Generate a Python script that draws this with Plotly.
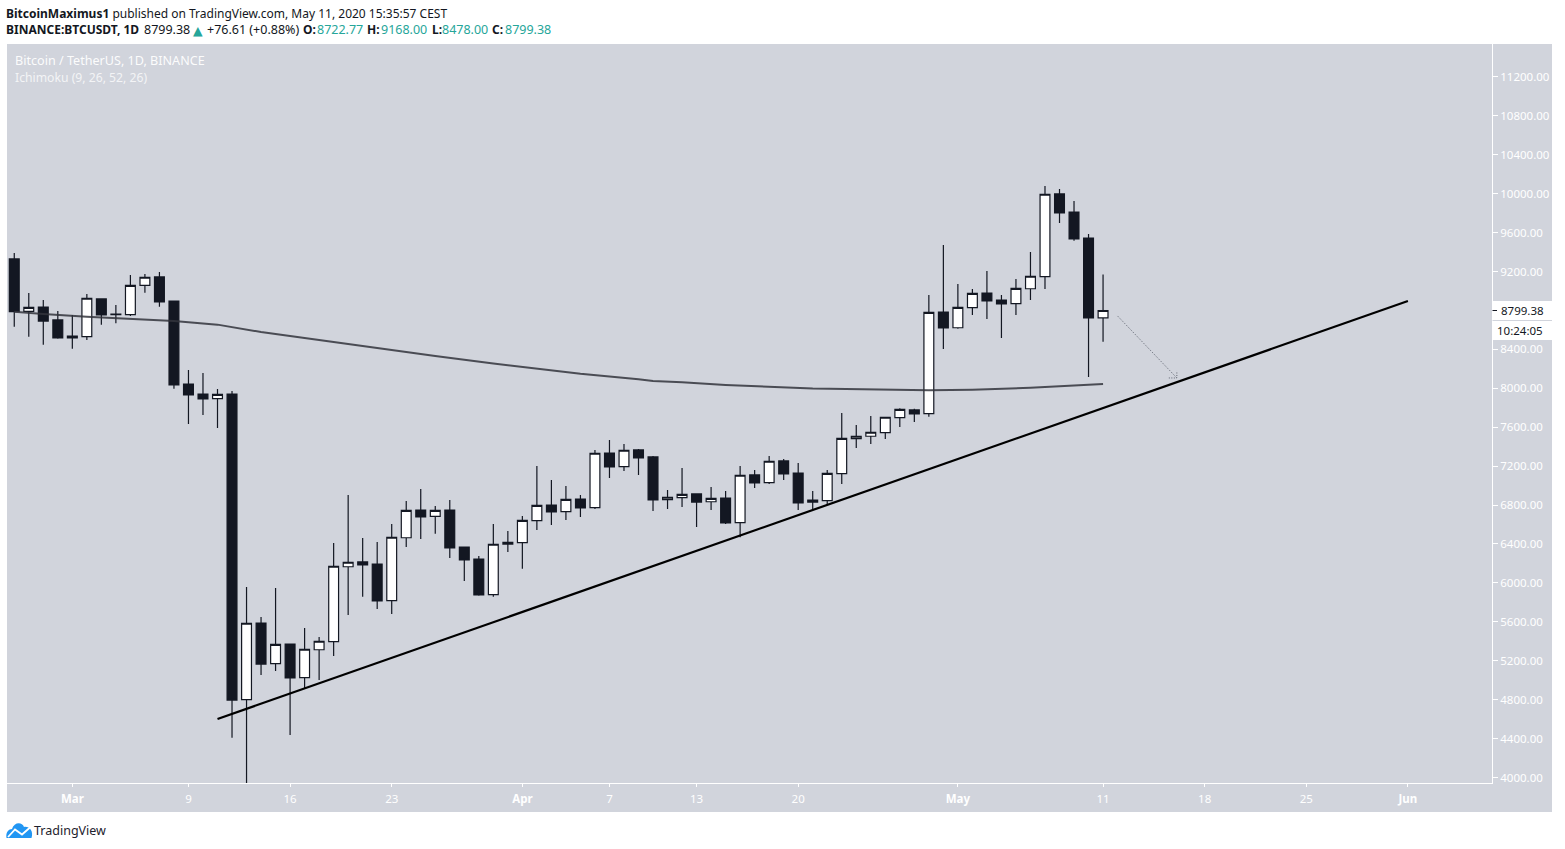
import pandas as pd
import plotly.graph_objects as go

# daily candles, first one is Feb 26 2020
open_prices = [9329, 8791, 8835, 8702, 8537, 8530, 8918, 8763, 8756, 9058, 9144, 8897, 8044, 7941, 7893, 7941,
               4800, 5588, 5170, 5372, 5026, 5313, 5396, 6166, 6215, 6194, 5817, 6464, 6749, 6684, 6749, 6369,
               6245, 5879, 6397, 6413, 6639, 6800, 6732, 6862, 6773, 7335, 7194, 7366, 7294, 6855, 6876, 6914,
               6834, 6872, 6619, 7109, 7030, 7253, 7129, 6852, 6845, 7122, 7482, 7507, 7544, 7698, 7777, 7739,
               8784, 8622, 8828, 8979, 8907, 8869, 9023, 9147, 9997, 9811, 9544, 8722.77]
high_prices = [9390, 8979, 8907, 8794, 8753, 8969, 8925, 8856, 9164, 9175, 9195, 8900, 8188, 8157, 7993, 7972,
               5958, 5650, 5947, 5372, 5536, 5444, 6410, 6903, 6461, 6420, 6605, 6842, 6965, 6790, 6852, 6369,
               6276, 6605, 6533, 6687, 7201, 7057, 6996, 6903, 7366, 7468, 7427, 7376, 7304, 6955, 7181, 6920,
               6985, 6944, 7201, 7160, 7304, 7273, 7232, 6944, 7160, 7746, 7623, 7715, 7702, 7795, 7790, 8959,
               9473, 9072, 9020, 9205, 8959, 9123, 9400, 10079, 10048, 9925, 9586, 9168]
low_prices = [8633, 8530, 8448, 8510, 8407, 8496, 8653, 8668, 8743, 8982, 8838, 7996, 7633, 7725, 7592, 4409,
              3782, 5053, 5095, 4437, 4917, 5002, 5249, 5670, 5858, 5732, 5680, 6369, 6451, 6506, 6256, 6019,
              5868, 5858, 6317, 6146, 6544, 6595, 6646, 6677, 6759, 7078, 7150, 7109, 6739, 6759, 6780, 6574,
              6749, 6605, 6469, 6975, 7016, 7057, 6749, 6749, 6800, 7016, 7386, 7427, 7479, 7602, 7653, 7708,
              8404, 8612, 8753, 8712, 8517, 8753, 8907, 9020, 9699, 9517, 8116, 8478]
close_prices = [8787, 8832, 8691, 8517, 8517, 8925, 8753, 8756, 9058, 9141, 8887, 8034, 7931, 7890, 7938, 4796,
                5585, 5166, 5369, 5023, 5318, 5400, 6171, 6212, 6184, 5814, 6469, 6746, 6677, 6746, 6359, 6235,
                5876, 6397, 6417, 6643, 6797, 6729, 6859, 6770, 7332, 7191, 7363, 7284, 6852, 6880, 6910, 6831,
                6869, 6616, 7106, 7027, 7250, 7119, 6821, 6831, 7126, 7486, 7507, 7548, 7702, 7784, 7736, 8781,
                8620, 8832, 8976, 8897, 8866, 9027, 9151, 9994, 9801, 9534, 8722, 8799.38]

# long moving average, read at a few dates
ma_dates = ['2020-02-26', '2020-02-28', '2020-03-02', '2020-03-06', '2020-03-08', '2020-03-11', '2020-03-14',
            '2020-03-17', '2020-03-20', '2020-03-22', '2020-03-26', '2020-03-30', '2020-04-02', '2020-04-05',
            '2020-04-09', '2020-04-10', '2020-04-12', '2020-04-15', '2020-04-21', '2020-04-25', '2020-04-29',
            '2020-05-02', '2020-05-06', '2020-05-11']
ma_values = [8787, 8763, 8736, 8709, 8691, 8654, 8578, 8517, 8455, 8407, 8332, 8255, 8201, 8149, 8093, 8075,
             8061, 8034, 7998, 7985, 7979, 7985, 8006, 8044]

trend_dates = ['2020-03-11', '2020-06-01']
trend_values = [4601, 8897]

arrow_dates = ['2020-05-12', '2020-05-16 02:00']
arrow_values = [8743, 8106]
arrow_head_dates = ['2020-05-15 12:45', '2020-05-16 02:00', '2020-05-16 02:00']
arrow_head_values = [8106, 8106, 8178]

y_ticks = list(range(4000, 11600, 400))
x_tick_dates = ['2020-03-01', '2020-03-09', '2020-03-16', '2020-03-23', '2020-04-01', '2020-04-07', '2020-04-13',
                '2020-04-20', '2020-05-01', '2020-05-11', '2020-05-18', '2020-05-25', '2020-06-01']
x_tick_labels = ['<b>Mar</b>', '9', '16', '23', '<b>Apr</b>', '7', '13', '20', '<b>May</b>', '11', '18', '25',
                 '<b>Jun</b>']

DARK = '#131722'
PANEL = '#d1d4dc'
TEAL = '#26a69a'
FONT = 'Noto Sans'

# plot box in page pixels
W, H = 1565, 849
L, R, T, B = 7, 1492, 44, 783


def px(x):
    return (x - L) / (R - L)


def py(y):
    return (B - y) / (B - T)


dates = pd.date_range('2020-02-26', periods=len(close_prices))

fig = go.Figure()

fig.add_trace(go.Candlestick(
    x=dates, open=open_prices, high=high_prices, low=low_prices, close=close_prices,
    increasing=dict(line=dict(color=DARK, width=1.2), fillcolor='#ffffff'),
    decreasing=dict(line=dict(color=DARK, width=1.2), fillcolor=DARK),
    whiskerwidth=0,
))
fig.add_trace(go.Scatter(x=ma_dates, y=ma_values, mode='lines',
                         line=dict(color='rgba(50,52,60,0.85)', width=2)))
fig.add_trace(go.Scatter(x=trend_dates, y=trend_values, mode='lines', line=dict(color='#000000', width=2.2)))
fig.add_trace(go.Scatter(x=arrow_dates, y=arrow_values, mode='lines',
                         line=dict(color='#5f6470', width=1, dash='1px,1.5px')))
fig.add_trace(go.Scatter(x=arrow_head_dates, y=arrow_head_values, mode='lines',
                         line=dict(color='#5f6470', width=1, dash='1px,1.5px')))

shapes = [
    # grey panel running under the two axes
    dict(type='rect', xref='paper', yref='paper', x0=px(L), x1=px(1552), y0=py(812), y1=py(T),
         fillcolor=PANEL, line_width=0, layer='below'),
    # last price box
    dict(type='rect', xref='paper', yref='paper', x0=px(1492.5), x1=px(1552), y0=py(340), y1=py(301),
         fillcolor='#ffffff', line_width=0, layer='above'),
    dict(type='line', xref='paper', yref='paper', x0=px(1492.5), x1=px(1552), y0=py(320.5), y1=py(320.5),
         line=dict(color=PANEL, width=1), layer='above'),
    dict(type='line', xref='paper', yref='paper', x0=px(1492.5), x1=px(1497), y0=py(310.5), y1=py(310.5),
         line=dict(color=DARK, width=1), layer='above'),
    # TradingView logo
    dict(type='path', xref='paper', yref='paper', fillcolor='#2196f3', line_width=0, layer='above',
         path='M {} {} C {} {} {} {} {} {} C {} {} {} {} {} {} C {} {} {} {} {} {} C {} {} {} {} {} {} Z'.format(
             px(6.5), py(838), px(5.5), py(832), px(9), py(829), px(12), py(829),
             px(14), py(822), px(22), py(821.5), px(24), py(827),
             px(29), py(826), px(34), py(831), px(31.5), py(838),
             px(24), py(838), px(14), py(838), px(6.5), py(838))),
    dict(type='path', xref='paper', yref='paper', line=dict(color='#ffffff', width=1.8), layer='above',
         path='M {} {} L {} {} L {} {} L {} {}'.format(
             px(8), py(837), px(15), py(829.5), px(22), py(834.5), px(30), py(827.5))),
]


def label(x, y, text, color=DARK, size=12, family=FONT):
    return dict(xref='paper', yref='paper', x=px(x), y=py(y), text=text, showarrow=False, xanchor='left',
                yanchor='middle', align='left', font=dict(family=family, size=size, color=color),
                borderpad=0, borderwidth=0)


annotations = [
    label(6, 13, '<b>BitcoinMaximus1</b> published on TradingView.com, May 11, 2020 15:35:57 CEST'),
    label(6, 29.5, '<b>BINANCE:BTCUSDT, 1D</b>'),
    label(144, 29.5, '8799.38', size=12.5),
    label(193, 31, '▲', color=TEAL, size=12.5, family='DejaVu Sans'),
    label(207, 29.5, '+76.61 (+0.88%)', size=12.5),
    label(303, 29.5, '<b>O:</b>'),
    label(317, 29.5, '8722.77', color=TEAL, size=12.5),
    label(367, 29.5, '<b>H:</b>'),
    label(381, 29.5, '9168.00', color=TEAL, size=12.5),
    label(432, 29.5, '<b>L:</b>'),
    label(442, 29.5, '8478.00', color=TEAL, size=12.5),
    label(492, 29.5, '<b>C:</b>'),
    label(505, 29.5, '8799.38', color=TEAL, size=12.5),
    label(15, 60.5, 'Bitcoin / TetherUS, 1D, BINANCE', color='rgba(255,255,255,0.95)', size=12.6),
    label(15, 77.5, 'Ichimoku (9, 26, 52, 26)', color='rgba(255,255,255,0.75)', size=12.2),
    label(1501, 310.5, '8799.38', size=11.5),
    label(1497, 330.5, '10:24:05', size=11.5),
    label(34, 830, 'TradingView', color='#1e222d', size=12.5),
]

fig.update_layout(
    width=W, height=H,
    margin=dict(l=L, r=W - R, t=T, b=H - B, pad=0),
    paper_bgcolor='#ffffff', plot_bgcolor=PANEL,
    showlegend=False,
    font=dict(family=FONT, size=11.5, color='#ffffff'),
    boxgap=0.03,
    shapes=shapes, annotations=annotations,
    xaxis=dict(type='date', range=['2020-02-25 12:00', '2020-06-06 19:00'], rangeslider=dict(visible=False),
               tickmode='array', tickvals=x_tick_dates, ticktext=x_tick_labels, tickangle=0,
               showgrid=False, zeroline=False, showline=True, linecolor='#ffffff', linewidth=1,
               ticks='outside', ticklen=3, tickcolor='#ffffff', tickwidth=1, ticklabelstandoff=2,
               tickfont=dict(family=FONT, size=11.5, color='#ffffff')),
    yaxis=dict(side='right', range=[3943.5, 11538], tickmode='array', tickvals=y_ticks,
               tickformat='.2f', showgrid=False, zeroline=False, showline=True, linecolor='#ffffff', linewidth=1,
               ticks='outside', ticklen=5, tickcolor='#ffffff', tickwidth=1,
               tickfont=dict(family=FONT, size=11.5, color='#ffffff')),
)

fig.write_html('out.html', config={'displayModeBar': False}, post_script="document.body.style.margin='0'")
